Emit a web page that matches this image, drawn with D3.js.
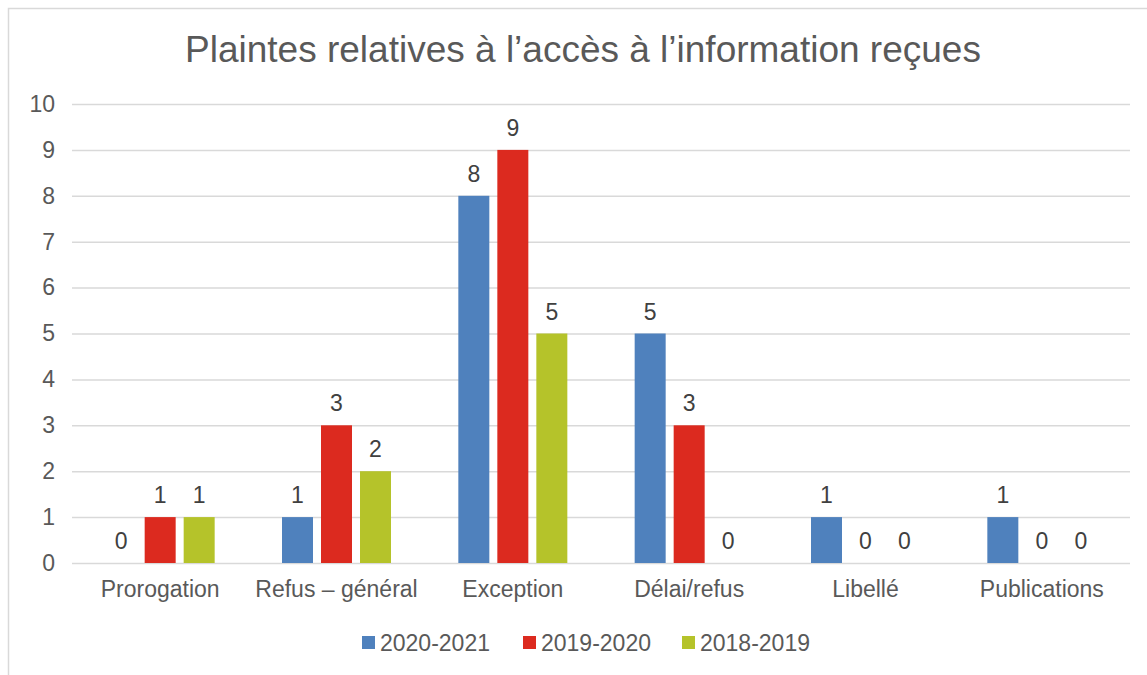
<!DOCTYPE html>
<html>
<head>
<meta charset="utf-8">
<script src="https://cdn.jsdelivr.net/npm/d3@7"></script>
<style>
  body { margin: 0; background: #fff; }
  svg, svg text { font-family: "Liberation Sans", Arial, sans-serif; }
</style>
</head>
<body>
<svg id="chart" width="1147" height="675"></svg>
<script>
const categories = ['Prorogation', 'Refus – général', 'Exception', 'Délai/refus', 'Libellé', 'Publications'];
const seriesNames = ['2020-2021', '2019-2020', '2018-2019'];
const seriesColors = ['#4f81bd', '#dc2a1f', '#b5c32a'];
const values2020 = [0, 1, 8, 5, 1, 1];
const values2019 = [1, 3, 9, 3, 0, 0];
const values2018 = [1, 2, 5, 0, 0, 0];
const yTicks = [0, 1, 2, 3, 4, 5, 6, 7, 8, 9, 10];

const allValues = [values2020, values2019, values2018];

const svg = d3.select('#chart');
const margin = { left: 72, right: 17, top: 104, bottom: 112 };
const width = 1147, height = 675;
const fontSize = '23px';

// outer frame (cropped on right and bottom)
svg.append('path')
    .attr('d', `M8.5,${height} L8.5,8.5 L${width},8.5`)
    .attr('fill', 'none')
    .attr('stroke', '#d9d9d9')
    .attr('stroke-width', 1.5);

const x = d3.scaleBand()
    .domain(categories)
    .range([margin.left, width - margin.right]);

const y = d3.scaleLinear()
    .domain([0, 10])
    .range([height - margin.bottom, margin.top]);

const barW = 31, barStep = 39;

// gridlines
svg.append('g')
    .selectAll('line')
    .data(yTicks)
    .join('line')
    .attr('x1', margin.left)
    .attr('x2', width - margin.right)
    .attr('y1', d => y(d) + 0.5)
    .attr('y2', d => y(d) + 0.5)
    .attr('stroke', '#d9d9d9')
    .attr('stroke-width', 1.5);

// y axis labels
const yAxis = svg.append('g')
    .attr('transform', `translate(${margin.left - 7},0)`)
    .call(d3.axisLeft(y).tickValues(yTicks).tickSize(0).tickPadding(10));
yAxis.select('.domain').remove();
yAxis.selectAll('text')
    .attr('fill', '#595959')
    .style('font-size', fontSize);

// x axis labels
const xAxis = svg.append('g')
    .attr('transform', `translate(0,${y(0)})`)
    .call(d3.axisBottom(x).tickSize(0).tickPadding(18));
xAxis.select('.domain').remove();
xAxis.selectAll('text')
    .attr('fill', '#595959')
    .style('font-size', fontSize);

// bars
allValues.forEach((vals, si) => {
    const g = svg.append('g');
    const offset = (si - 1) * barStep - barW / 2;
    g.selectAll('rect')
        .data(vals)
        .join('rect')
        .attr('x', (d, i) => x(categories[i]) + x.bandwidth() / 2 + offset)
        .attr('y', d => y(d))
        .attr('width', barW)
        .attr('height', d => y(0) - y(d))
        .attr('fill', seriesColors[si]);

    g.selectAll('text')
        .data(vals)
        .join('text')
        .attr('x', (d, i) => x(categories[i]) + x.bandwidth() / 2 + offset + barW / 2)
        .attr('y', d => y(d) - 14)
        .attr('text-anchor', 'middle')
        .attr('fill', '#404040')
        .style('font-size', fontSize)
        .text(d => d);
});

// title
svg.append('text')
    .attr('x', 583)
    .attr('y', 62)
    .attr('text-anchor', 'middle')
    .attr('fill', '#595959')
    .style('font-size', '37px')
    .text('Plaintes relatives à l’accès à l’information reçues');

// legend
const legendX = [362, 523, 682];
const legend = svg.append('g');
seriesNames.forEach((name, i) => {
    legend.append('rect')
        .attr('x', legendX[i])
        .attr('y', 636)
        .attr('width', 13)
        .attr('height', 13)
        .attr('fill', seriesColors[i]);
    legend.append('text')
        .attr('x', legendX[i] + 18)
        .attr('y', 651)
        .attr('fill', '#595959')
        .style('font-size', fontSize)
        .text(name);
});
</script>
</body>
</html>
